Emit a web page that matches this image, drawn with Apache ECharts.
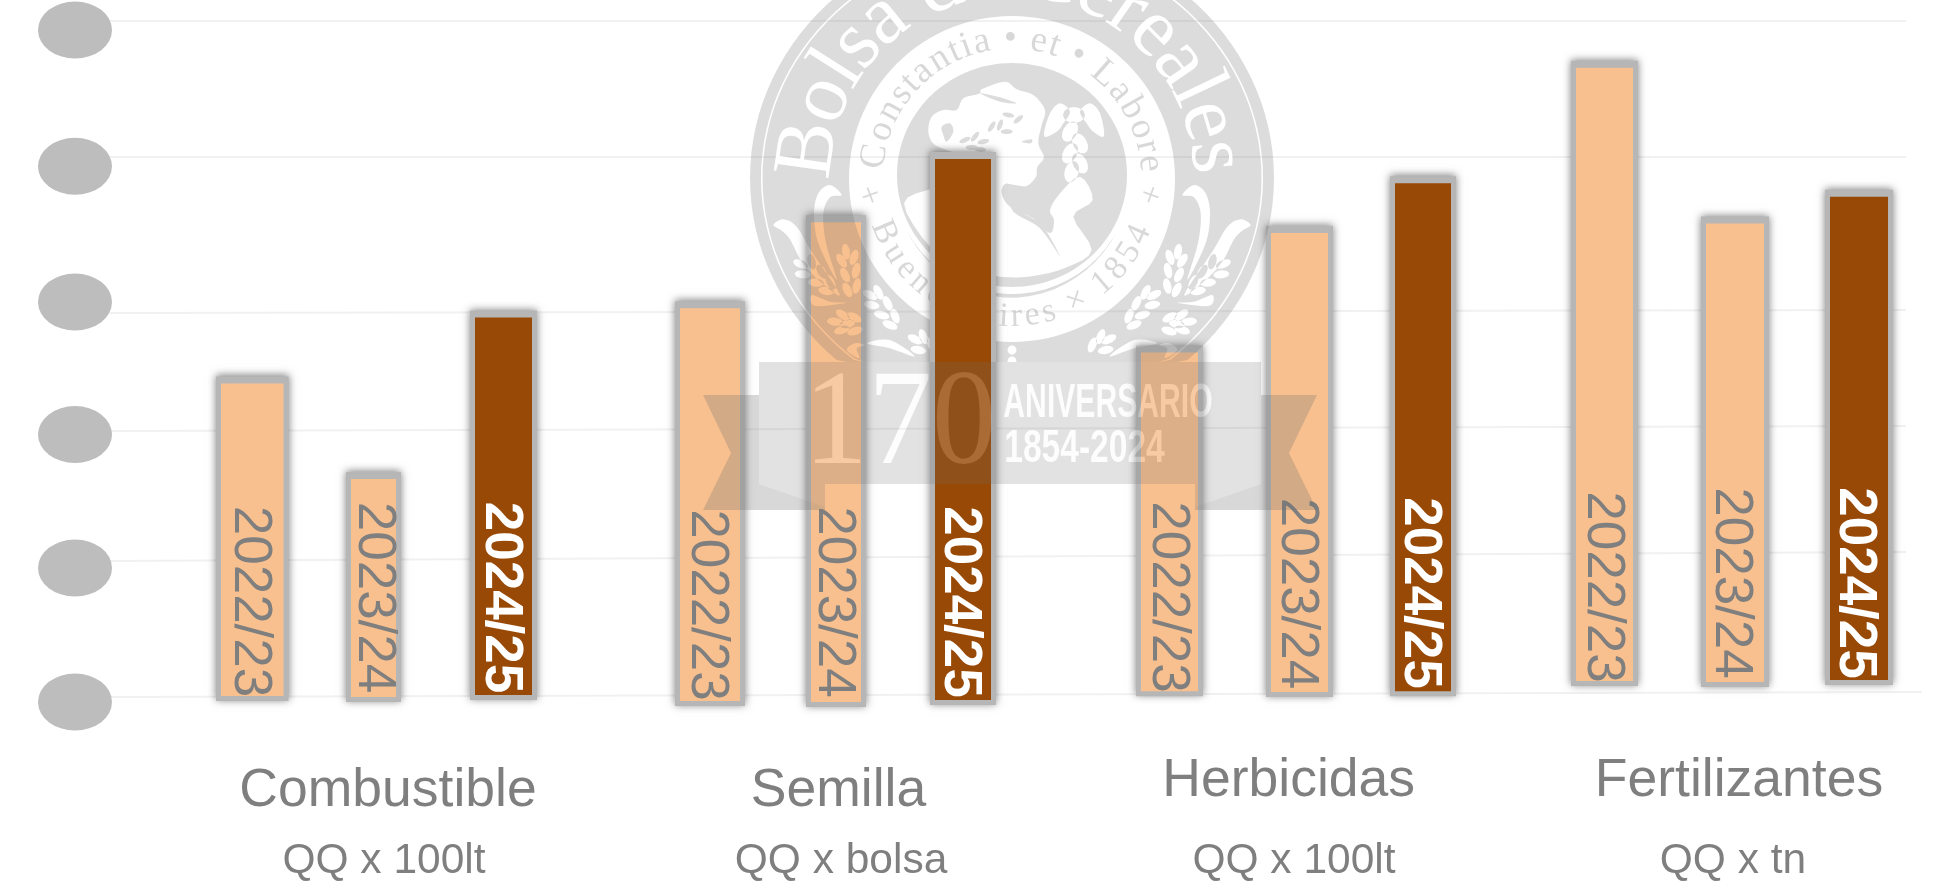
<!DOCTYPE html>
<html><head><meta charset="utf-8">
<style>html,body{margin:0;padding:0;background:#fff;overflow:hidden}#c{width:1942px;height:889px}</style>
<script src="https://cdn.jsdelivr.net/npm/echarts@6/dist/echarts.min.js"></script>
</head><body><div id="c"></div>
<script>
// ---------- DATA (value axis units; the reference masks its tick labels) ----------
const products = ['Combustible', 'Semilla', 'Herbicidas', 'Fertilizantes'];
const units = ['QQ x 100lt', 'QQ x bolsa', 'QQ x 100lt', 'QQ x tn'];
const seasons = ['2022/23', '2023/24', '2024/25'];
const values2223 = [2.37, 2.93, 2.60, 4.72];
const values2324 = [1.66, 3.57, 3.49, 3.56];
const values2425 = [2.86, 4.04, 3.86, 3.76];
const maskedTicks = [0, 0.997, 1.99, 2.976, 3.986, 5];
const gridLeft = [0.037, 1.049, 2.016, 2.894, 4.055, 5.067];
const gridRight = [0.074, 1.116, 2.054, 2.917, 4.055, 5.067];

// ---------- LAYOUT ----------
const barLeft = [[221, 680, 1141, 1576], [351, 811, 1271, 1706], [475, 935, 1395, 1830]];
const barRight = [[283.5, 740, 1198, 1633], [396, 861, 1328, 1764], [532, 991, 1451, 1888]];
const barBase = [[0.045, 0.007, 0.08, 0.156], [0.037, 0, 0.075, 0.149], [0.052, 0.015, 0.08, 0.164]];
const labelMidY = [[601.5, 605, 597, 587], [597.5, 602, 593.5, 583], [597.5, 602, 593, 583]];
const labelNudgeX = [[-3, -3, -2, -2], [0.5, -2, -3, -4], [-3, -3, -3, -4]];
const nameX = [388, 838.5, 1288.7, 1739], nameY = [791, 791, 781, 781];
const unitX = [384, 841, 1294, 1733], unitY = [861, 861, 861, 861];
const PEACH = '#f9c08f', BROWN = '#984906', TXT = '#7f7f7f', SANS = '"Liberation Sans", Arial, sans-serif', SERIF = '"Liberation Serif", serif';
const LOGO = 'rgba(110,110,110,0.24)', CLIP_Y = 362, CX = 1012, CY = 178;

function barSeries(s, values, z) {
  return {
    type: 'custom', z, silent: true, clip: false,
    data: values.map((v, i) => [i, v]),
    encode: { x: -1, y: 1 },
    renderItem(params, api) {
      const i = api.value(0);
      const a = api.coord([barLeft[s][i], api.value(1)]);
      const b = api.coord([barRight[s][i], barBase[s][i]]);
      const bold = s === 2;
      return { type: 'group', children: [
        { type: 'rect', shape: { x: a[0] - 5, y: a[1] - 7, width: b[0] - a[0] + 10, height: b[1] - a[1] + 12 },
          style: { fill: '#b6b6b6', shadowBlur: 8, shadowColor: 'rgba(0,0,0,0.5)', shadowOffsetY: -1 } },
        { type: 'rect', shape: { x: a[0], y: a[1], width: b[0] - a[0], height: b[1] - a[1] }, style: { fill: bold ? BROWN : PEACH } },
        { type: 'text', x: (a[0] + b[0]) / 2 + labelNudgeX[s][i], y: labelMidY[s][i], rotation: -Math.PI / 2,
          style: { text: seasons[s], fill: bold ? '#fff' : TXT, font: (bold ? 'bold ' : '') + '53px ' + SANS, align: 'center', verticalAlign: 'middle' } }
      ] };
    }
  };
}

// ---------- seal outline helpers (nonzero winding: +1 solid, -1 cut-out) ----------
function ell(cx, cy, rx, ry, rot, n) {
  rot = rot || 0; n = n || 14; const p = [];
  for (let k = 0; k < n; k++) {
    const t = 2 * Math.PI * k / n, x = rx * Math.cos(t), y = ry * Math.sin(t);
    p.push([cx + x * Math.cos(rot) - y * Math.sin(rot), cy + x * Math.sin(rot) + y * Math.cos(rot)]);
  }
  return p;
}
function smooth(pts, steps) {
  steps = steps || 5; const out = [], n = pts.length;
  for (let i = 0; i < n; i++) {
    const p0 = pts[(i - 1 + n) % n], p1 = pts[i], p2 = pts[(i + 1) % n], p3 = pts[(i + 2) % n];
    for (let k = 0; k < steps; k++) {
      const t = k / steps, t2 = t * t, t3 = t2 * t;
      out.push([0, 1].map(d => 0.5 * (2 * p1[d] + (p2[d] - p0[d]) * t + (2 * p0[d] - 5 * p1[d] + 4 * p2[d] - p3[d]) * t2 + (3 * p1[d] - p0[d] - 3 * p2[d] + p3[d]) * t3)));
    }
  }
  return out;
}
let sealPath = '';
function add(pts, sign) {
  let area = 0;
  pts.forEach((p, i) => { const q = pts[(i + 1) % pts.length]; area += p[0] * q[1] - q[0] * p[1]; });
  const list = (area > 0) === (sign > 0) ? pts : pts.slice().reverse();
  sealPath += list.map((p, i) => (i ? 'L' : 'M') + p[0].toFixed(1) + ' ' + Math.min(p[1], CLIP_Y).toFixed(1)).join(' ') + ' Z ';
}
const mirror = pts => pts.map(p => [2 * CX - p[0], p[1]]);
const Z6 = (x, y) => [740 + x / 3, 180 + y / 3];
const Z7 = (x, y) => [900 + x / 3, 60 + y / 3];

add(ell(CX, CY, 262, 245, 0, 120), 1);
add(ell(CX, CY, 251, 234, 0, 120), -1);
add(ell(CX, CY, 249.5, 232.5, 0, 120), 1);
add(ell(CX, 179, 163, 163, 0, 120), -1);
add(ell(CX, 175, 115, 112, 0, 120), 1);

// bust, hair and raised arm
const figure = [[85,215],[95,170],[130,150],[170,150],[190,115],[240,100],[245,88],[315,65],[350,88],[400,105],[435,150],[425,195],[415,250],[432,292],[412,320],[408,350],[380,378],[345,375],[315,372],[305,400],[330,440],[400,475],[450,520],[462,480],[450,450],[480,400],[540,350],[578,420],[520,470],[575,570],[500,622],[400,648],[300,650],[190,625],[90,560],[12,430],[100,385],[170,365],[200,330],[175,285],[105,255]].map(p => Z7(p[0], p[1]));
add(smooth(figure, 4), -1);
// wreath in the hair
[[325,165,0.2],[355,178,-0.7],[300,195,-1.2],[275,200,-1],[320,215,0],[225,230,-0.9],[250,245,-0.2],[215,262,0],[240,268,0.1],[195,240,-0.4]].forEach(l => {
  const c = Z7(l[0], l[1]); add(ell(c[0], c[1], 6, 2.4, l[2]), 1);
});
add(smooth([[125,200],[150,190],[160,215],[140,245],[130,225]].map(p => Z7(p[0], p[1]))), 1);
add(smooth([[240,100],[300,125],[350,130],[300,112]].map(p => Z7(p[0], p[1]))), 1);
add(smooth([[365,245],[395,238],[392,250]].map(p => Z7(p[0], p[1]))), 1);
add(smooth([[320,395],[345,445],[425,495],[480,590],[420,505],[340,455]].map(p => Z7(p[0], p[1]))), 1);
// caduceus
add(smooth([[432,228],[450,160],[480,130],[510,155],[490,190],[470,215]].map(p => Z7(p[0], p[1]))), -1);
add(smooth([[612,228],[600,160],[570,130],[540,155],[560,190],[580,215]].map(p => Z7(p[0], p[1]))), -1);
add(ell(900 + 522 / 3, 60 + 165 / 3, 11, 8), -1);
[[510,215,0.5],[540,250,-0.5],[510,280,0.5],[540,310,-0.5],[515,335,0.3]].forEach(l => {
  const c = Z7(l[0], l[1]); add(ell(c[0], c[1], 7, 11, l[2]), -1);
});
// crescent under the disc
const cres = [];
for (let a = -62; a <= 62; a += 6) cres.push([CX + 119 * Math.sin(a * Math.PI / 180), 175 + 119 * Math.cos(a * Math.PI / 180)]);
for (let a = 62; a >= -62; a -= 6) cres.push([CX + (119 + 4 * (1 - Math.abs(a) / 62)) * Math.sin(a * Math.PI / 180), 175 + (119 + 4 * (1 - Math.abs(a) / 62)) * Math.cos(a * Math.PI / 180)]);
add(cres, 1);
// wheat ears and scrolls, left side mirrored to the right
const leaves = [
  [318,215,1.4],[342,232,1.9],[305,242,1.0],[348,272,1.8],[315,285,1.1],[350,318,1.8],[322,330,1.1],[245,275,1.0],[272,307,1.1],[228,308,0.1],[258,333,0.2],[215,245,1.3],[182,252,0.4],[188,283,0.1],
  [308,405,0.6],[343,412,0.5],[285,425,0.1],[322,432,-0.2],[305,450,-0.3],[345,453,-0.3],
  [390,345,0.5],[415,337,1.1],[395,375,0.2],[443,370,1.1],[425,405,0.3],[465,408,1.2],[450,435,0.4],
  [525,478,0.5],[550,470,1.2],[535,510,0.2],[575,495,1.2]
];
leaves.forEach(l => {
  const c = Z6(l[0], l[1]), e = ell(c[0], c[1], 8, 4, l[2]);
  add(e, -1); add(mirror(e), -1);
});
[
  [[100,135],[130,118],[170,140],[215,215],[300,345],[235,300],[185,245],[150,178],[125,152]],
  [[305,45],[270,15],[235,40],[222,100],[235,190],[290,300],[258,190],[250,100],[270,52]],
  [[215,345],[270,365],[320,368],[225,378]],
  [[320,510],[345,490],[375,495],[350,505],[358,535]],
  [[380,490],[450,480],[525,530],[450,505]]
].forEach(sh => {
  const p = smooth(sh.map(q => Z6(q[0], q[1])));
  add(p, -1); add(mirror(p), -1);
});
add(ell(CX, 350, 4.5, 4.5), -1); add(ell(CX, 361, 4.5, 4.5), -1);

// ---------- seal lettering ----------
const mctx = document.createElement('canvas').getContext('2d');
function arcText(text, font, fill, r, fromDeg, toDeg, bottom) {
  mctx.font = font;
  const w = [...text].map(c => mctx.measureText(c).width);
  const total = w.reduce((a, b) => a + b, 0) - (w[0] + w[w.length - 1]) / 2;
  let run = 0; const out = [];
  [...text].forEach((c, i) => {
    if (i) run += (w[i - 1] + w[i]) / 2;
    const deg = fromDeg + (toDeg - fromDeg) * run / total, a = deg * Math.PI / 180;
    if (c === ' ') return;
    const x = CX + r * Math.sin(a), y = CY + (bottom ? 1 : -1) * r * Math.cos(a);
    out.push({ type: 'text', x, y, rotation: bottom ? a : -a, style: { text: c, font, fill, align: 'center', verticalAlign: 'middle' } });
  });
  return out;
}
const sealLetters = [].concat(
  arcText('Bolsa de Cereales', '84px ' + SERIF, '#fff', 204, -82, 84, false),
  arcText('Constantia \u2022 et \u2022 Labore', '37px ' + SERIF, 'rgba(110,110,110,0.27)', 139, -81, 84, false),
  arcText('Buenos Aires \u00d7 1854', '34px ' + SERIF, 'rgba(110,110,110,0.27)', 139, -67, 66, true)
);
[[871, 197, 0.35], [1150, 197, -0.35]].forEach(s => sealLetters.push({ type: 'text', x: s[0], y: s[1], rotation: s[2],
  style: { text: '+', font: '34px ' + SERIF, fill: 'rgba(110,110,110,0.27)', align: 'center', verticalAlign: 'middle' } }));

const sealSeries = {
  type: 'custom', z: 3, silent: true, clip: false, data: [[0, 0]], encode: { x: 0, y: 1 },
  renderItem() {
    return { type: 'group', children: [
      { type: 'path', shape: { pathData: sealPath }, style: { fill: LOGO } }
    ].concat(sealLetters) };
  }
};

// ---------- anniversary ribbon ----------
const tailL = [[703,395],[759,395],[759,484],[825,507],[825,510],[703,510],[731,453]];
const foldL = [[759,484],[825,484],[825,507]];
const flip = pts => pts.map(p => [2020 - p[0], p[1]]);
const ribbonTexts = ['170', 'ANIVERSARIO', '1854-2024'];
const addText = (i, x, y, font, scaleX) => ({ type: 'text', x, y, scaleX,
  style: { text: ribbonTexts[i], font, fill: 'rgb(27,27,27)', align: 'center', verticalAlign: 'middle' } });
const ribbonSeries = {
  type: 'custom', z: 5, silent: true, clip: false, data: [[0, 0]], encode: { x: 0, y: 1 },
  renderItem() {
    const poly = (points, fill) => ({ type: 'polygon', shape: { points }, style: { fill } });
    return { type: 'group', children: [
      { type: 'rect', shape: { x: 759, y: 362, width: 502, height: 122 }, style: { fill: 'rgba(110,110,110,0.2)' } },
      poly(tailL, 'rgba(110,110,110,0.27)'), poly(flip(tailL), 'rgba(110,110,110,0.27)'),
      poly(foldL, 'rgba(110,110,110,0.2)'), poly(flip(foldL), 'rgba(110,110,110,0.2)'),
      addText(0, 900, 428, '135px ' + SERIF, 0.95),
      addText(1, 1108, 403, 'bold 49px ' + SANS, 0.615),
      addText(2, 1084.5, 449, 'bold 46px ' + SANS, 0.73)
    ] };
  }
};

const labelSeries = {
  type: 'custom', z: 2, silent: true, clip: false,
  data: products.map((p, i) => [i, 0]), encode: { x: -1, y: 1 },
  renderItem(params, api) {
    const i = api.value(0);
    return { type: 'group', children: [
      { type: 'text', x: nameX[i], y: nameY[i], style: { text: products[i], font: '53.5px ' + SANS, fill: TXT, align: 'center', verticalAlign: 'middle' } },
      { type: 'text', x: unitX[i], y: unitY[i], style: { text: units[i], font: '42.5px ' + SANS, fill: TXT, align: 'center', verticalAlign: 'middle' } }
    ] };
  }
};

const gridSeries = gridLeft.map((v, i) => ({
  type: 'line', z: 1, silent: true, symbol: 'none', clip: false,
  lineStyle: { color: '#f1f1f1', width: 2 },
  data: [[110, v], [i === 0 ? 1922 : 1906, gridRight[i]]]
}));

const chart = echarts.init(document.getElementById('c'), null, { renderer: 'canvas' });
chart.setOption({
  animation: false,
  backgroundColor: '#fff',
  grid: { left: 0, right: 0, top: 30, bottom: 187 },
  xAxis: { type: 'value', min: 0, max: 1942, show: false },
  yAxis: { type: 'value', min: 0, max: 5, interval: 1, show: false },
  series: [].concat(gridSeries, [
    barSeries(0, values2223, 2),
    barSeries(1, values2324, 2),
    sealSeries,
    barSeries(2, values2425, 4),
    ribbonSeries,
    labelSeries,
    { type: 'scatter', z: 6, silent: true, symbol: 'circle', symbolSize: [74, 57], itemStyle: { color: '#bdbdbd', opacity: 1 },
      data: maskedTicks.map(v => [75, v]) }
  ])
});
// The ribbon lettering adds light to whatever lies beneath it, as in the seal artwork.
const zr = chart.getZr();
zr.storage.getDisplayList(true, true).forEach(el => {
  if (el.style && ribbonTexts.indexOf(el.style.text) >= 0) { el.style.blend = 'lighter'; el.dirty(); }
});
zr.refreshImmediately();
</script></body></html>
